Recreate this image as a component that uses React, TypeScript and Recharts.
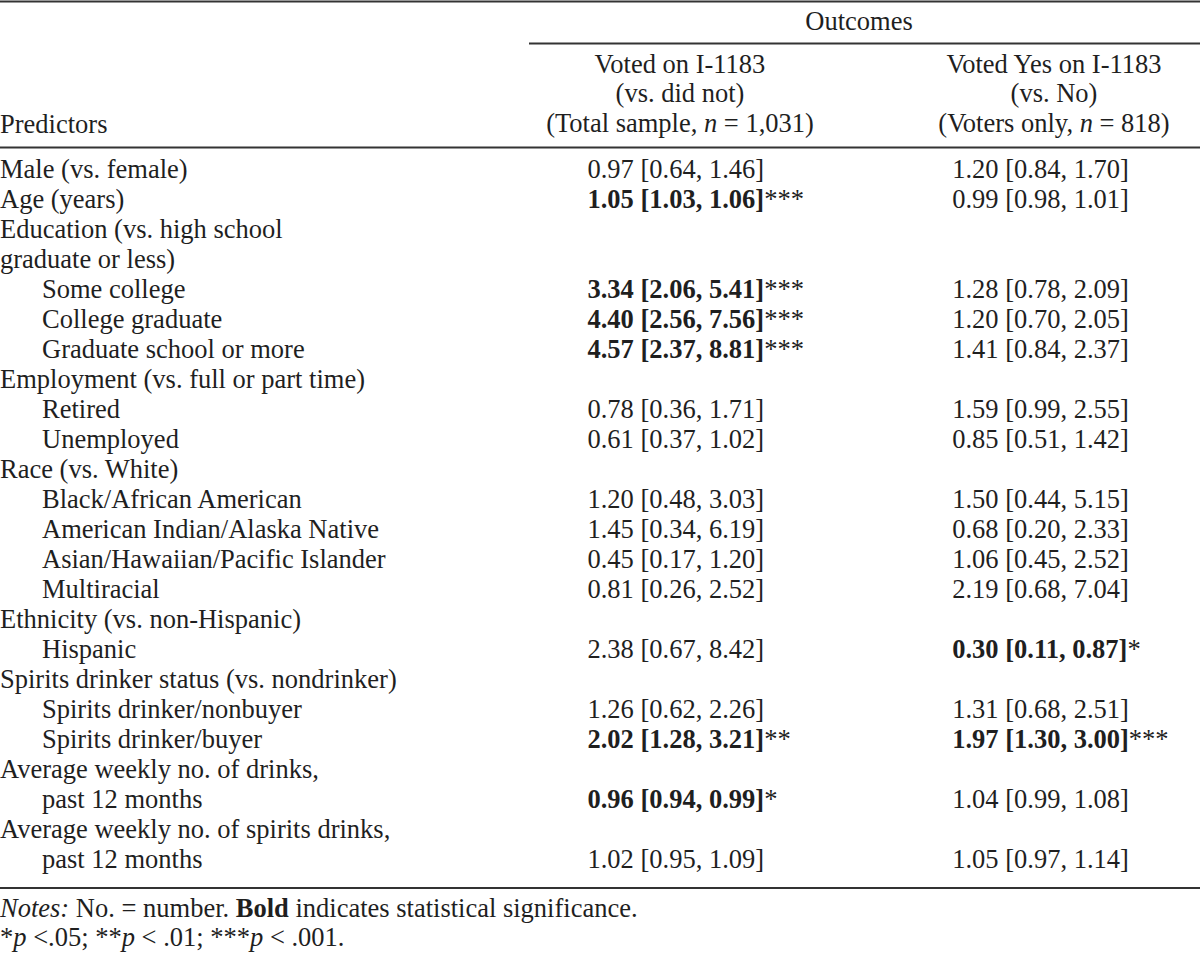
import { ScatterChart, Scatter, XAxis, YAxis, Customized } from "recharts";

const rowLabels = [
  "Male (vs. female)",
  "Age (years)",
  "Education (vs. high school",
  "graduate or less)",
  "Some college",
  "College graduate",
  "Graduate school or more",
  "Employment (vs. full or part time)",
  "Retired",
  "Unemployed",
  "Race (vs. White)",
  "Black/African American",
  "American Indian/Alaska Native",
  "Asian/Hawaiian/Pacific Islander",
  "Multiracial",
  "Ethnicity (vs. non-Hispanic)",
  "Hispanic",
  "Spirits drinker status (vs. nondrinker)",
  "Spirits drinker/nonbuyer",
  "Spirits drinker/buyer",
  "Average weekly no. of drinks,",
  "past 12 months",
  "Average weekly no. of spirits drinks,",
  "past 12 months",
];

const rowIndent = [0, 0, 0, 0, 1, 1, 1, 0, 1, 1, 0, 1, 1, 1, 1, 0, 1, 0, 1, 1, 0, 1, 0, 1];

const votedOR = [
  "0.97 [0.64, 1.46]", "1.05 [1.03, 1.06]", "", "",
  "3.34 [2.06, 5.41]", "4.40 [2.56, 7.56]", "4.57 [2.37, 8.81]", "",
  "0.78 [0.36, 1.71]", "0.61 [0.37, 1.02]", "",
  "1.20 [0.48, 3.03]", "1.45 [0.34, 6.19]", "0.45 [0.17, 1.20]", "0.81 [0.26, 2.52]", "",
  "2.38 [0.67, 8.42]", "",
  "1.26 [0.62, 2.26]", "2.02 [1.28, 3.21]", "",
  "0.96 [0.94, 0.99]", "",
  "1.02 [0.95, 1.09]",
];
const votedSig = [
  "", "***", "", "", "***", "***", "***", "", "", "", "",
  "", "", "", "", "", "", "", "", "**", "", "*", "", "",
];

const yesOR = [
  "1.20 [0.84, 1.70]", "0.99 [0.98, 1.01]", "", "",
  "1.28 [0.78, 2.09]", "1.20 [0.70, 2.05]", "1.41 [0.84, 2.37]", "",
  "1.59 [0.99, 2.55]", "0.85 [0.51, 1.42]", "",
  "1.50 [0.44, 5.15]", "0.68 [0.20, 2.33]", "1.06 [0.45, 2.52]", "2.19 [0.68, 7.04]", "",
  "0.30 [0.11, 0.87]", "",
  "1.31 [0.68, 2.51]", "1.97 [1.30, 3.00]", "",
  "1.04 [0.99, 1.08]", "",
  "1.05 [0.97, 1.14]",
];
const yesSig = [
  "", "", "", "", "", "", "", "", "", "", "",
  "", "", "", "", "", "*", "", "", "***", "", "", "", "",
];

const headerTitles = ["Voted on I-1183", "Voted Yes on I-1183"];
const headerContrasts = ["(vs. did not)", "(vs. No)"];
const headerSamples = ["Total sample", "Voters only"];
const headerNs = ["1,031", "818"];

const FONT = "'Liberation Serif', 'Times New Roman', serif";
const SIZE = 26.5;
const INK = "#1f1f1f";
const RULE = "#333";

const rowIds = rowLabels.map((_, i) => i);
const votedPoints = rowIds
  .map((i) => ({ row: i, col: 1, text: votedOR[i], sig: votedSig[i] }))
  .filter((d) => d.text);
const yesPoints = rowIds
  .map((i) => ({ row: i, col: 2, text: yesOR[i], sig: yesSig[i] }))
  .filter((d) => d.text);

const RowTick = ({ y, payload }: any) => (
  <text
    x={rowIndent[payload.value] ? 42 : 0}
    y={y}
    dy="0.32em"
    fontFamily={FONT}
    fontSize={SIZE}
    fill={INK}
    textAnchor="start"
  >
    {rowLabels[payload.value]}
  </text>
);

const CellText = ({ cx, cy, payload }: any) => (
  <text x={cx} y={cy} dy="0.32em" fontFamily={FONT} fontSize={SIZE} fill={INK}>
    <tspan fontWeight={payload.sig ? "bold" : "normal"}>{payload.text}</tspan>
    {payload.sig ? <tspan>{payload.sig}</tspan> : null}
  </text>
);

const colCenters = [680, 1054];

const Frame = () => (
  <g fontFamily={FONT} fontSize={SIZE} fill={INK}>
    <line x1={0} x2={1200} y1={1.5} y2={1.5} stroke={RULE} strokeWidth={2} />
    <text x={859} y={30} textAnchor="middle">Outcomes</text>
    <line x1={529} x2={1200} y1={43.5} y2={43.5} stroke={RULE} strokeWidth={2} />
    {colCenters.map((cx, i) => (
      <g key={i}>
        <text x={cx} y={73} textAnchor="middle">{headerTitles[i]}</text>
        <text x={cx} y={102} textAnchor="middle">{headerContrasts[i]}</text>
        <text x={cx} y={132} textAnchor="middle">
          ({headerSamples[i]}, <tspan fontStyle="italic">n</tspan> = {headerNs[i]})
        </text>
      </g>
    ))}
    <text x={0} y={133}>Predictors</text>
    <line x1={0} x2={1200} y1={147.5} y2={147.5} stroke={RULE} strokeWidth={2} />
    <line x1={0} x2={1200} y1={888} y2={888} stroke={RULE} strokeWidth={2} />
    <text x={0} y={917}>
      <tspan fontStyle="italic">Notes:</tspan> No. = number.{" "}
      <tspan fontWeight="bold">Bold</tspan> indicates statistical significance.
    </text>
    <text x={0} y={946}>
      *<tspan fontStyle="italic">p</tspan> {"<"}.05; **<tspan fontStyle="italic">p</tspan> {"<"} .01; ***
      <tspan fontStyle="italic">p</tspan> {"<"} .001.
    </text>
  </g>
);

export default function App() {
  return (
    <div style={{ position: "absolute", left: 0, top: 0, background: "#fff" }}>
      <ScatterChart
        width={1200}
        height={955}
        margin={{ top: 155, right: 0, bottom: 80, left: 0 }}
      >
        <XAxis
          type="number"
          dataKey="col"
          domain={[-0.6082, 2.6795]}
          allowDataOverflow
          hide
        />
        <YAxis
          type="number"
          dataKey="row"
          domain={[-0.5, 23.5]}
          reversed
          allowDataOverflow
          ticks={rowIds}
          interval={0}
          width={1}
          axisLine={false}
          tickLine={false}
          tick={<RowTick />}
        />
        <Scatter data={votedPoints} shape={<CellText />} isAnimationActive={false} />
        <Scatter data={yesPoints} shape={<CellText />} isAnimationActive={false} />
        <Customized component={<Frame />} />
      </ScatterChart>
    </div>
  );
}
